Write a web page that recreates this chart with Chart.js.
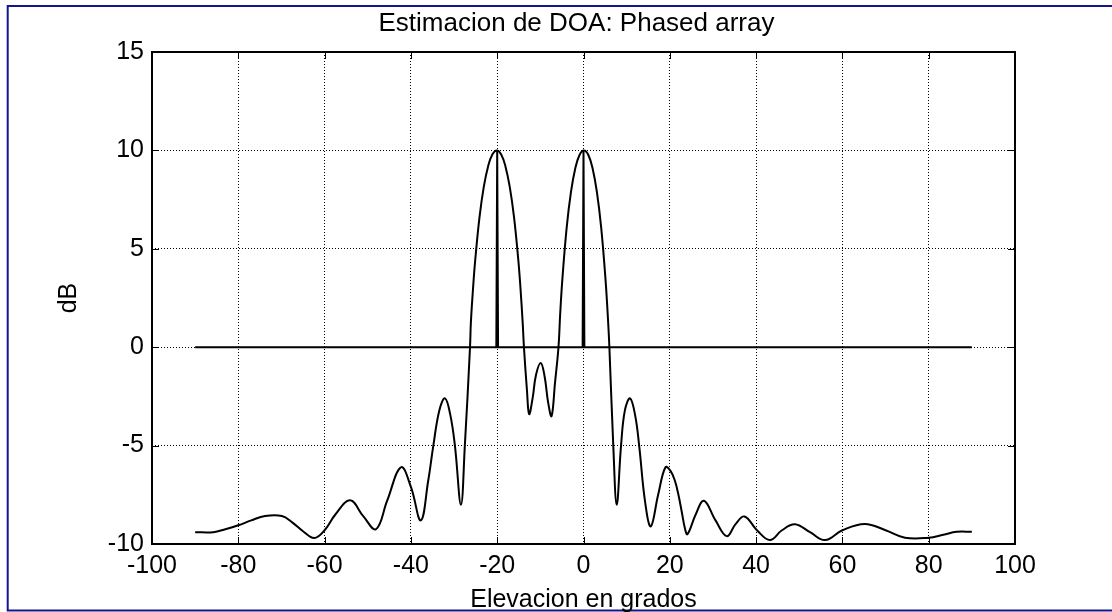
<!DOCTYPE html>
<html>
<head>
<meta charset="utf-8">
<title>Estimacion de DOA: Phased array</title>
<script src="https://cdn.jsdelivr.net/npm/chart.js@4"></script>
<style>
  html, body { margin: 0; padding: 0; background: #ffffff; }
  #wrap { position: relative; width: 1112px; height: 612px; }
  canvas { display: block; }
</style>
</head>
<body>
<div id="wrap"><canvas id="doa" width="1112" height="612"></canvas></div>
<script>
// Beamformer output (dB) versus elevation angle (degrees)
const elevationDeg = [
  -90, -85.8, -83, -80, -77, -73.8, -69.9, -67.5, -65, -62.4,
  -60, -57.5, -54.1, -51, -48.1, -45.5, -42.3, -40, -37.7, -36,
  -34.8, -33.4, -32.1, -30.9, -29.8, -28.4, -27.5,
  -26.3, -26.1, -25.6, -25.1, -24.1, -23.1, -22.1, -21.1, -20.1,
  -19.1, -18.1, -17.1, -16.1, -15.1, -14.6, -14.1, -13.8,
  -13.1, -12.6, -11.8, -11.0, -9.9, -9.0, -8.2, -7.4, -6.6,
  -5.8, -5.4, -4.9, -3.9, -2.9, -1.9, -0.9, 0.1,
  1.1, 2.1, 3.1, 4.1, 5.1, 5.6, 6.0,
  6.9, 7.7, 8.7, 9.6, 10.8, 12.0, 12.9, 14.3, 15.6, 17.3,
  19.0, 20.2, 21.2, 22.0, 22.8, 23.5, 24.1, 26.0, 27.9, 30.6,
  33.2, 35.2, 37.3, 40.2, 43.2, 46.0, 49.0, 52.5, 56.0, 60.0,
  65.2, 70.0, 74.5, 80.0, 83.4, 86.5, 90.0
];
const powerDb = [
  -9.40, -9.40, -9.25, -9.05, -8.80, -8.58, -8.58, -8.90, -9.35, -9.70,
  -9.30, -8.50, -7.78, -8.60, -9.25, -7.80, -6.10, -7.10, -8.80, -6.80,
  -5.00, -3.20, -2.60, -3.40, -5.00, -8.00, -5.00,
  0.00, 1.26, 2.98, 4.41, 6.61, 8.16, 9.20, 9.80, 10.00,
  9.80, 9.20, 8.16, 6.61, 4.41, 2.98, 1.26, 0.00,
  -2.20, -3.40, -2.60, -1.40, -0.80, -1.50, -2.80, -3.50, -1.80,
  0.00, 1.71, 3.45, 6.08, 7.89, 9.09, 9.78, 10.00,
  9.78, 9.09, 7.89, 6.08, 3.45, 1.71, 0.00,
  -5.00, -8.00, -5.00, -3.20, -2.60, -3.50, -5.00, -7.90, -9.10, -7.50,
  -6.10, -6.30, -6.80, -7.50, -8.40, -9.20, -9.50, -8.50, -7.80, -8.80,
  -9.60, -9.00, -8.60, -9.30, -9.80, -9.30, -9.00, -9.40, -9.80, -9.30,
  -8.98, -9.30, -9.68, -9.68, -9.53, -9.38, -9.38
];

// True source directions: zero baseline with spikes at each arrival angle
const sourceAngleDeg = [-90, -20.2, -20, -19.8, -0.2, 0, 0.2, 90];
const sourceLevelDb  = [0, 0, 10, 0, 0, 10, 0, 0];

// Axis ticks
const xTicks = [-100, -80, -60, -40, -20, 0, 20, 40, 60, 80, 100];
const yTicks = [-10, -5, 0, 5, 10, 15];

const chartTitle = 'Estimacion de DOA: Phased array';
const FONT = "'Liberation Sans', Arial, Helvetica, sans-serif";

const spectrumPoints = elevationDeg.map((a, i) => ({ x: a, y: powerDb[i] }));
const sourcePoints = sourceAngleDeg.map((a, i) => ({ x: a, y: sourceLevelDb[i] }));

// White page, blue figure frame and the plot title
const figureFrame = {
  id: 'figureFrame',
  beforeDraw(chart) {
    const ctx = chart.ctx;
    ctx.save();
    ctx.fillStyle = '#ffffff';
    ctx.fillRect(0, 0, chart.width, chart.height);
    ctx.strokeStyle = '#14148c';
    ctx.lineWidth = 2;
    ctx.beginPath();
    ctx.moveTo(chart.width + 5, 6);
    ctx.lineTo(7.7, 6);
    ctx.lineTo(7.7, 610.5);
    ctx.lineTo(chart.width + 5, 610.5);
    ctx.stroke();

    ctx.fillStyle = '#000000';
    ctx.font = '26px ' + FONT;
    ctx.textAlign = 'center';
    ctx.textBaseline = 'middle';
    const a = chart.chartArea;
    ctx.fillText(chartTitle, (a.left + a.right) / 2 - 7, 24);
    ctx.restore();
  }
};

// Solid axes box with inward tick marks on all four sides
const axesBox = {
  id: 'axesBox',
  afterDraw(chart) {
    const { ctx, chartArea: a, scales } = chart;
    const tl = 7;
    ctx.save();
    ctx.strokeStyle = '#000000';
    ctx.lineWidth = 1;
    ctx.beginPath();
    xTicks.forEach(v => {
      const px = Math.round(scales.x.getPixelForValue(v)) + 0.5;
      ctx.moveTo(px, a.bottom); ctx.lineTo(px, a.bottom - tl);
      ctx.moveTo(px, a.top); ctx.lineTo(px, a.top + tl);
    });
    yTicks.forEach(v => {
      const py = Math.round(scales.y.getPixelForValue(v)) + 0.5;
      ctx.moveTo(a.left, py); ctx.lineTo(a.left + tl, py);
      ctx.moveTo(a.right, py); ctx.lineTo(a.right - tl, py);
    });
    ctx.stroke();
    ctx.lineWidth = 2;
    ctx.strokeRect(a.left, a.top, a.right - a.left, a.bottom - a.top);
    ctx.restore();
  }
};

new Chart(document.getElementById('doa'), {
  type: 'line',
  data: {
    datasets: [
      {
        label: 'Espectro',
        data: spectrumPoints,
        borderColor: '#000000',
        borderWidth: 2,
        pointRadius: 0,
        fill: false,
        tension: 0.4
      },
      {
        label: 'DOA',
        data: sourcePoints,
        borderColor: '#000000',
        borderWidth: 2,
        pointRadius: 0,
        fill: false,
        tension: 0
      }
    ]
  },
  options: {
    responsive: false,
    animation: false,
    devicePixelRatio: 1,
    events: [],
    layout: { padding: { left: 0, right: 97, top: 52, bottom: 0 } },
    plugins: {
      legend: { display: false },
      tooltip: { enabled: false },
      title: { display: false }
    },
    scales: {
      x: {
        type: 'linear',
        min: -100,
        max: 100,
        afterBuildTicks(s) { s.ticks = xTicks.map(v => ({ value: v })); },
        afterFit(s) { s.height = 68; },
        ticks: {
          color: '#000000',
          font: { family: FONT, size: 25 },
          padding: 7,
          maxRotation: 0,
          autoSkip: false
        },
        grid: { color: '#000000', lineWidth: 1, drawTicks: false },
        border: { display: false, dash: [1, 2] },
        title: {
          display: true,
          text: 'Elevacion en grados',
          color: '#000000',
          font: { family: FONT, size: 25, lineHeight: 1 },
          padding: { top: 0, bottom: -1 }
        }
      },
      y: {
        type: 'linear',
        min: -10,
        max: 15,
        afterBuildTicks(s) { s.ticks = yTicks.map(v => ({ value: v })); },
        afterFit(s) { s.width = 152; },
        ticks: {
          color: '#000000',
          font: { family: FONT, size: 25 },
          padding: 8,
          autoSkip: false
        },
        grid: { color: '#000000', lineWidth: 1, drawTicks: false },
        border: { display: false, dash: [1, 2] },
        title: {
          display: true,
          text: 'dB',
          color: '#000000',
          font: { family: FONT, size: 25, lineHeight: 1 },
          padding: { top: 57, bottom: 0 }
        }
      }
    }
  },
  plugins: [figureFrame, axesBox]
});
</script>
</body>
</html>
